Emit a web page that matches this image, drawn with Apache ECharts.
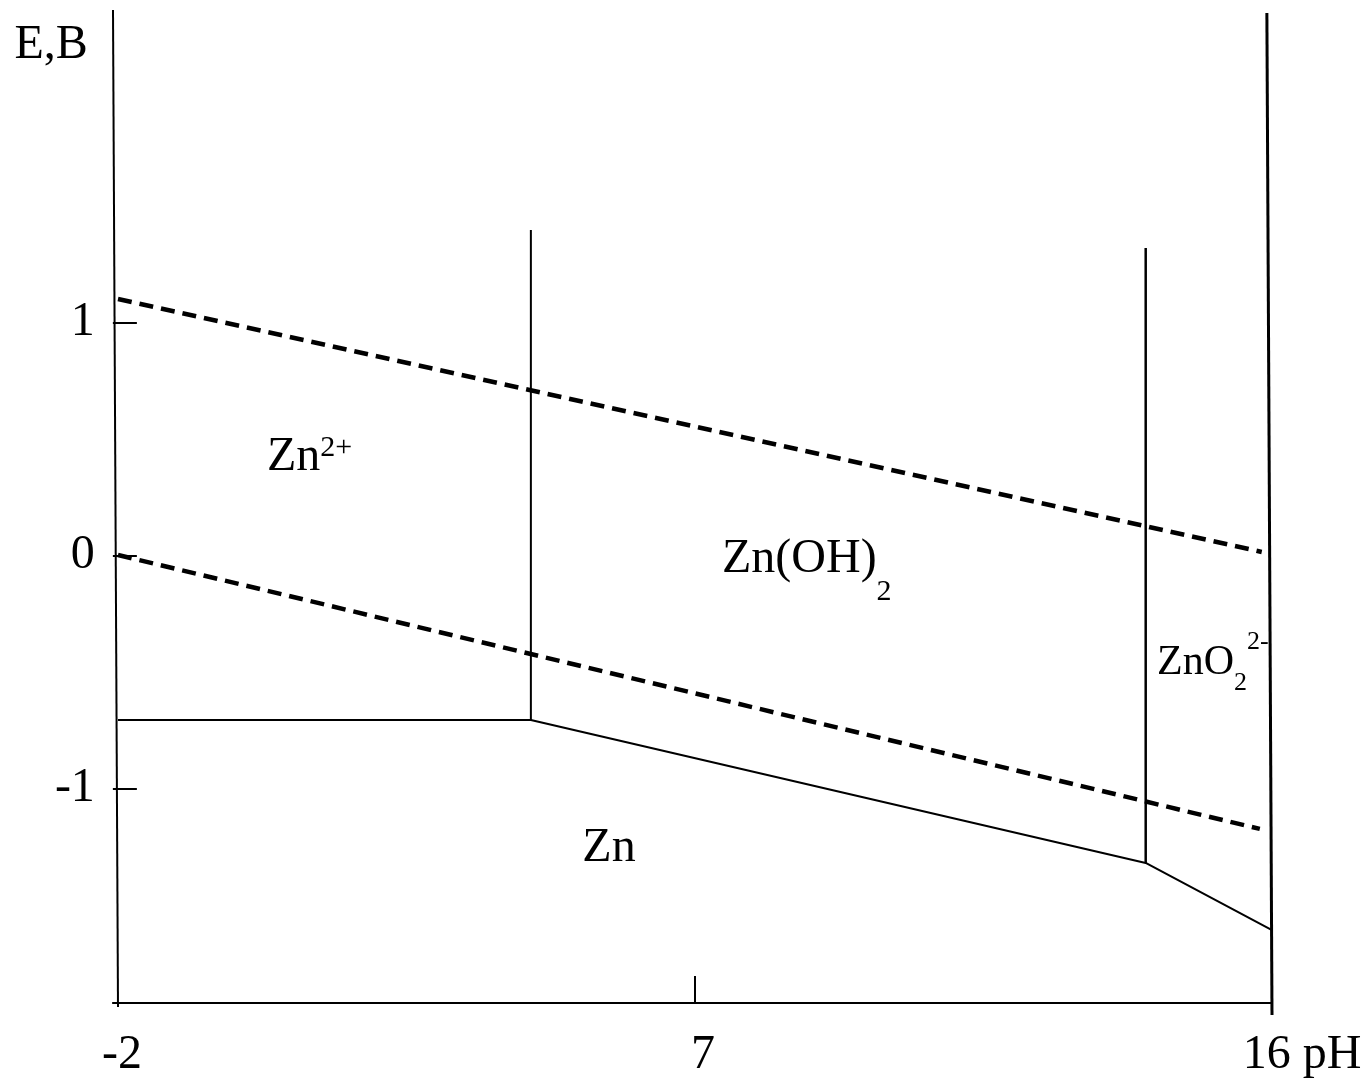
<!DOCTYPE html>
<html><head><meta charset="utf-8">
<script src="https://cdn.jsdelivr.net/npm/echarts@6/dist/echarts.min.js"></script>
<style>html,body{margin:0;padding:0;background:#fff}#c{width:1368px;height:1081px}</style>
</head><body><div id="c"></div>
<script>
// axis ticks and labels
const xLabelValues = [-2, 7, 16];
const xTickValues = [7];
const yTickValues = [-1, 0, 1];
// boundary lines, [pH, E]
const leftBorder = [[-2.078, 2.34], [-2, -1.937]];
const rightBorder = [[15.92, 2.327], [16, -1.971]];
const zn2ZnOH2 = [[4.44, 1.396], [4.44, -0.706]];
const znOH2ZnO2 = [[14.03, 1.319], [14.03, -1.319]];
const znLine = [[-2, -0.706], [4.44, -0.706], [14.03, -1.319], [16, -1.607]];
const oxygenLine = [[-2, 1.100], [15.84, 0.015]];
const hydrogenLine = [[-2, 0.002], [15.81, -1.173]];
// region labels
const regionPos = [[0.989, 0.4226], [8.744, -0.015], [15.077, -0.46], [5.659, -1.255]];
const regionNames = ['{a|Zn}{sup|2+}', '{c|Zn(OH)}{sub|2}', '{b|ZnO}{bsub|2}{bsup|2-}', '{a|Zn}'];

const FONT = 'Liberation Serif';
const chart = echarts.init(document.getElementById('c'));
function seg(data, width, type) {
  return {
    type: 'line', data: data, symbol: 'none', clip: false, silent: true,
    lineStyle: { color: '#000', width: width, type: type || 'solid' }
  };
}
chart.setOption({
  animation: false,
  backgroundColor: '#fff',
  grid: { left: 112.87, right: 96, top: 10, bottom: 78 },
  xAxis: {
    type: 'value', min: -2.08, max: 16,
    axisLine: { show: true, onZero: false, lineStyle: { color: '#000', width: 2 } },
    axisTick: { show: true, inside: true, length: 27, customValues: xTickValues, lineStyle: { color: '#000', width: 2 } },
    splitLine: { show: false },
    axisLabel: {
      customValues: xLabelValues, margin: 28, color: '#000', fontFamily: FONT, fontSize: 48,
      formatter: function (v) { return v === 16 ? '{r|16 pH}' : (v === 7 ? '{q|7}' : '{p|' + v + '}'); },
      rich: {
        p: { fontFamily: FONT, fontSize: 48, color: '#000', padding: [0, 0, 0, 8] },
        q: { fontFamily: FONT, fontSize: 48, color: '#000', padding: [0, 0, 0, 16] },
        r: { fontFamily: FONT, fontSize: 48, color: '#000', padding: [0, 0, 0, 60] }
      }
    }
  },
  yAxis: {
    type: 'value', min: -1.92, max: 2.34,
    name: 'E,B', nameLocation: 'end', nameGap: -35,
    nameTextStyle: { fontFamily: FONT, fontSize: 48, color: '#000', align: 'right', verticalAlign: 'middle', padding: [0, 25, 0, 0] },
    axisLine: { show: false, onZero: false },
    axisTick: { show: true, inside: true, length: 24, customValues: yTickValues, lineStyle: { color: '#000', width: 2 } },
    splitLine: { show: false },
    axisLabel: { customValues: yTickValues, margin: 18, color: '#000', fontFamily: FONT, fontSize: 48 }
  },
  series: [
    seg(leftBorder, 2),
    seg(rightBorder, 3),
    seg(zn2ZnOH2, 2),
    seg(znOH2ZnO2, 2.5),
    seg(znLine, 2),
    seg(oxygenLine, 4.5, [14, 8]),
    seg(hydrogenLine, 4.5, [14, 8]),
    {
      type: 'scatter', data: regionPos, symbolSize: 0, silent: true,
      itemStyle: { opacity: 1 },
      label: {
        show: true, position: 'inside', color: '#000', opacity: 1, fontFamily: FONT,
        formatter: function (p) { return regionNames[p.dataIndex]; },
        rich: {
          a: { fontFamily: FONT, fontSize: 48, lineHeight: 48, color: '#000' },
          sup: { fontFamily: FONT, fontSize: 30, lineHeight: 38, verticalAlign: 'top', color: '#000' },
          c: { fontFamily: FONT, fontSize: 48, lineHeight: 96, color: '#000' },
          sub: { fontFamily: FONT, fontSize: 30, lineHeight: 30, verticalAlign: 'bottom', color: '#000' },
          b: { fontFamily: FONT, fontSize: 42, lineHeight: 67, color: '#000' },
          bsub: { fontFamily: FONT, fontSize: 26, lineHeight: 26, verticalAlign: 'bottom', color: '#000' },
          bsup: { fontFamily: FONT, fontSize: 26, lineHeight: 64, verticalAlign: 'top', color: '#000' }
        }
      }
    }
  ]
});
</script></body></html>
